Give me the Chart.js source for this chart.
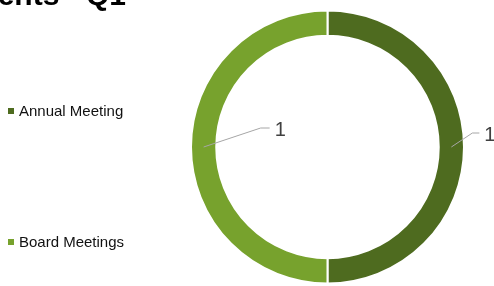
<!DOCTYPE html>
<html>
<head>
<meta charset="utf-8">
<script src="https://cdn.jsdelivr.net/npm/chart.js@4/dist/chart.umd.min.js"></script>
<style>
html,body{margin:0;padding:0;background:#fff;overflow:hidden;}
canvas{display:block;}
</style>
</head>
<body>
<canvas id="c" width="494" height="286"></canvas>
<script>
const chartTitle = 'Events - Q1';
const categories = ['Annual Meeting', 'Board Meetings'];
const values = [1, 1];
const sliceColors = ['#4E6B1F', '#77A22D'];

// label leader layout (dx, dy from arc midpoint to the bend; horizontal tail length)
const leaderLayout = [{dx: 21, dy: -14, tail: 7}, {dx: 57, dy: -19, tail: 9}];
const legendRows = [111, 242];

const decorPlugin = {
  id: 'decor',
  afterDraw(chart) {
    const ctx = chart.ctx;
    ctx.save();
    // title (clipped at the top-left like the reference)
    ctx.font = 'bold 30px "Liberation Sans", Arial, sans-serif';
    ctx.fillStyle = '#000';
    ctx.textAlign = 'right';
    ctx.textBaseline = 'alphabetic';
    ctx.fillText(chartTitle, 126, 5);

    // legend
    ctx.font = '15px "Liberation Sans", Arial, sans-serif';
    ctx.textAlign = 'left';
    ctx.textBaseline = 'middle';
    categories.forEach((cat, i) => {
      const y = legendRows[i];
      ctx.fillStyle = sliceColors[i];
      ctx.fillRect(8, y - 3, 6, 6);
      ctx.fillStyle = '#111';
      ctx.fillText(cat, 19, y + 0.5);
    });

    // data labels with leader lines
    const meta = chart.getDatasetMeta(0);
    meta.data.forEach((arc, i) => {
      const p = arc.getProps(['x', 'y', 'startAngle', 'endAngle', 'innerRadius', 'outerRadius'], true);
      const mid = (p.startAngle + p.endAngle) / 2;
      const r = (p.innerRadius + p.outerRadius) / 2;
      const x0 = p.x + Math.cos(mid) * r;
      const y0 = p.y + Math.sin(mid) * r;
      const L = leaderLayout[i];
      const x1 = x0 + L.dx, y1 = y0 + L.dy;
      const x2 = x1 + L.tail;
      ctx.strokeStyle = '#A6A6A6';
      ctx.lineWidth = 1;
      ctx.beginPath();
      ctx.moveTo(x0, y0);
      ctx.lineTo(x1, y1);
      ctx.lineTo(x2, y1);
      ctx.stroke();
      ctx.fillStyle = '#404040';
      ctx.font = '20px "Liberation Sans", Arial, sans-serif';
      ctx.textAlign = 'left';
      ctx.textBaseline = 'middle';
      ctx.fillText(String(values[i]), x2 + 5, y1 + 2.5);
    });
    ctx.restore();
  }
};

new Chart(document.getElementById('c'), {
  type: 'doughnut',
  data: {
    labels: categories,
    datasets: [{
      data: values,
      backgroundColor: sliceColors,
      borderColor: '#ffffff',
      borderWidth: 2
    }]
  },
  options: {
    responsive: false,
    animation: false,
    cutout: '81.5%',
    layout: {padding: {left: 190, right: 29, top: 9, bottom: 1}},
    plugins: {legend: {display: false}, tooltip: {enabled: false}, title: {display: false}}
  },
  plugins: [decorPlugin]
});
</script>
</body>
</html>
